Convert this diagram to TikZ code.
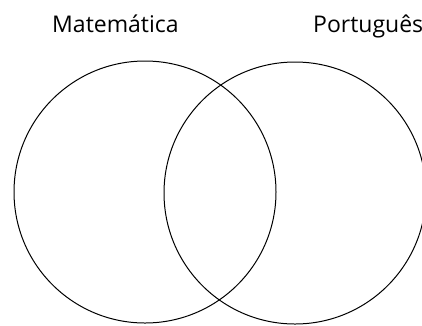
\documentclass[tikz,border=0pt]{standalone}
\usepackage{fontspec}
\setmainfont{Open Sans}
\begin{document}
\begin{tikzpicture}[x=1pt,y=-1pt,
  setcircle/.style={circle,draw=black,line width=1pt,inner sep=0pt,minimum size=262pt},
  setlabel/.style={anchor=base west,inner sep=0pt,font=\fontsize{23}{27}\selectfont}]
\useasboundingbox (0,0) rectangle (422,325);
\node[setcircle] (mat) at (145,192) {};
\node[setcircle] (por) at (295,193) {};
\node[setlabel] (lmat) at (52,32) {Matemática};
\node[setlabel] (lpor) at (313,32) {Português};
\end{tikzpicture}
\end{document}
